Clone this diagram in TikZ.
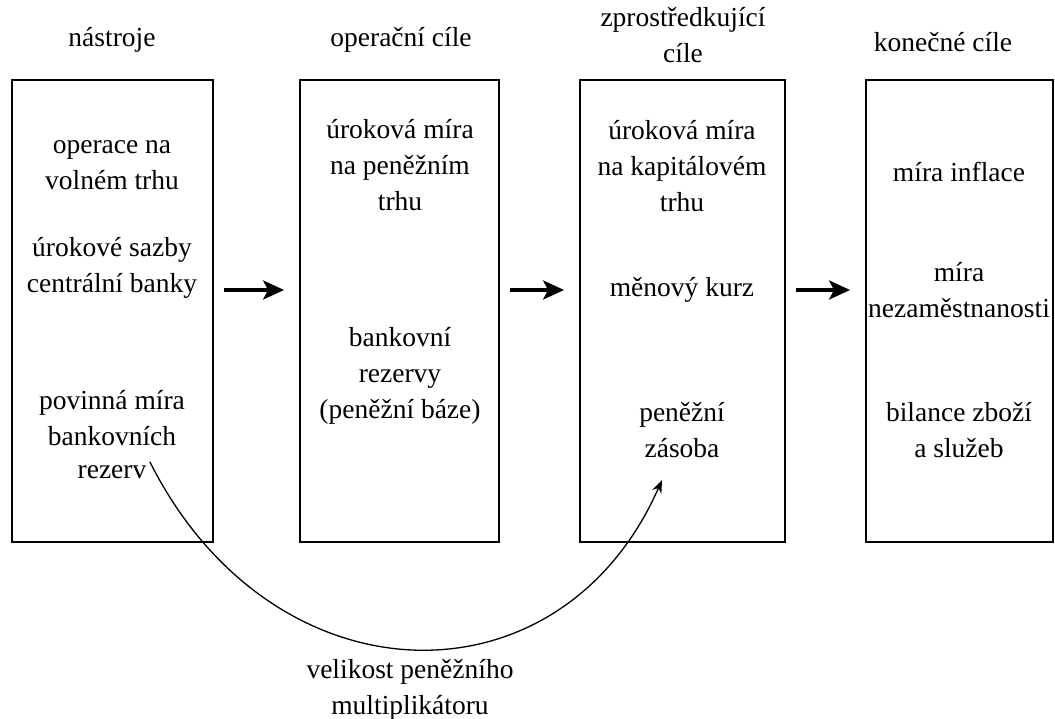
\documentclass[tikz,border=0pt]{standalone}
\usepackage{fontspec}
\setmainfont{LiberationSerif}[Extension=.ttf,UprightFont=*-Regular,BoldFont=*-Bold,ItalicFont=*-Italic,BoldItalicFont=*-BoldItalic]
\usetikzlibrary{arrows.meta}
\begin{document}
\begin{tikzpicture}[x=1pt,y=-1pt,
    box/.style={draw,line width=1.8pt,minimum width=#1,minimum height=462pt,inner sep=0pt},
    txt/.style={align=center,font=\fontsize{27.5}{36}\selectfont},
    flow/.style={line width=3.4pt,-{Stealth[length=21pt,width=19pt,inset=5pt]}},
    multarrow/.style={line width=1.3pt,-{Stealth[length=13pt,width=10pt]}}]
  \useasboundingbox (0,0) rectangle (1055,719);

  \node[box=201pt] (b1) at (112.5,311) {};
  \node[box=199pt] (b2) at (399.5,311) {};
  \node[box=205pt] (b3) at (682.5,311) {};
  \node[box=187pt] (b4) at (959.5,311) {};

  \node[txt] (t1) at (112,40) {nástroje};
  \node[txt] (t2) at (401,40) {operační cíle};
  \node[txt] (t3) at (683,35) {zprostředkující\\cíle};
  \node[txt] (t4) at (943,42) {konečné cíle};

  \node[txt] (open) at (112,165) {operace na\\volném trhu};
  \node[txt] (sazby) at (112,268) {úrokové sazby\\centrální banky};
  \node[txt] (povin) at (112,418) {povinná míra\\bankovních};
  \node[txt] (rez) at (112,472) {rezerv};

  \node[txt] (urok1) at (400,165) {úroková míra\\na peněžním\\trhu};
  \node[txt] (baze) at (400,376) {bankovní\\rezervy\\(peněžní báze)};

  \node[txt] (urok2) at (682,166) {úroková míra\\na kapitálovém\\trhu};
  \node[txt] (kurz) at (682,290) {měnový kurz};
  \node[txt] (zas) at (682,430) {peněžní\\zásoba};

  \node[txt] (infl) at (959,172) {míra inflace};
  \node[txt] (nezam) at (959,290) {míra\\nezaměstnanosti};
  \node[txt] (bil) at (959,430) {bilance zboží\\a služeb};

  \node[txt] (mult) at (410,690) {velikost peněžního\\multiplikátoru};

  \foreach \a/\b in {b1/b2, b2/b3, b3/b4} {
    \draw[flow] ([xshift=10pt,yshift=21pt]\a.east) -- ([xshift=-15pt,yshift=21pt]\b.west);
  }

  \coordinate (tip) at (662,480);
  \draw[multarrow] (rez.north east) .. controls (272,705) and (560,712) .. (tip);
\end{tikzpicture}
\end{document}
